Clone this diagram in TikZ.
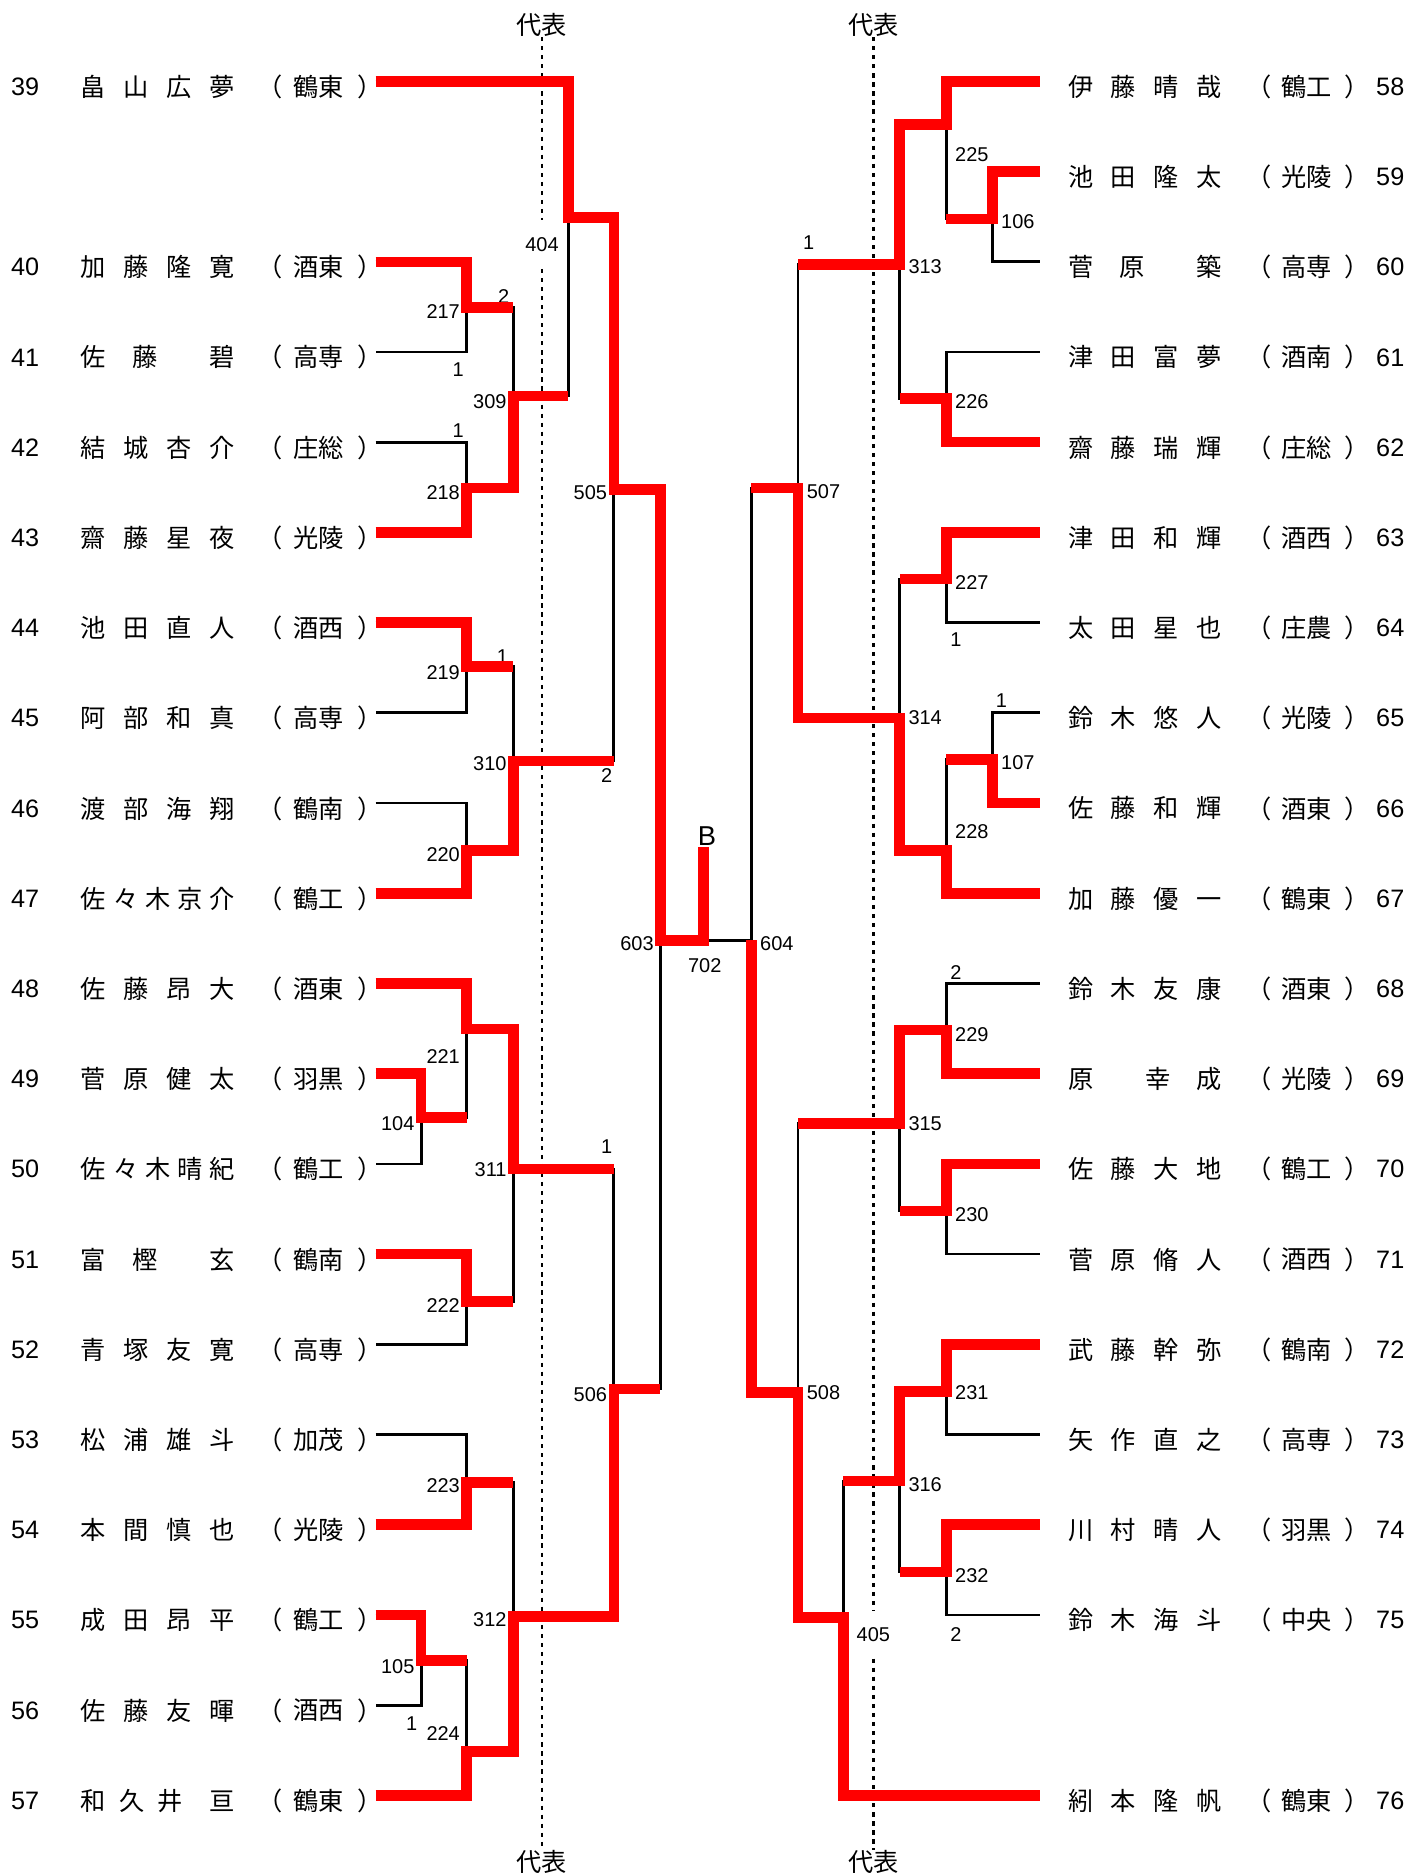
\documentclass[tikz,border=0pt]{standalone}
\usepackage{fontspec}
\usepackage{xcolor}
\usepackage{tikz}
\usetikzlibrary{calc}
\newfontfamily\jpfont{Noto Sans CJK JP}
\newfontfamily\latfont{Liberation Sans}
\definecolor{winRed}{HTML}{FF0000}

\begin{document}
\begin{tikzpicture}[x=0.02cm, y=-0.02cm,
  bline/.style={line width=1.3pt},
  wline/.style={winRed, line width=5pt, line join=miter},
  rep/.style={line width=1.2pt, dash pattern=on 2pt off 2.3pt},
  nametxt/.style={font=\jpfont\fontsize{12pt}{14pt}\selectfont, inner sep=0pt},
  pnotxt/.style={font=\latfont\fontsize{12pt}{14pt}\selectfont, inner sep=0pt},
  mno/.style={font=\latfont\fontsize{9.5pt}{11pt}\selectfont, inner sep=0pt},
]
  \useasboundingbox (0,0) rectangle (1192,1568);

  % left entries
  \foreach \k/\pno/\who/\sch in {
    0/39/{畠\hfill 山\hfill 広\hfill 夢}/鶴東,
    2/40/{加\hfill 藤\hfill 隆\hfill 寛}/酒東,
    3/41/{佐\hfill 藤\hfill\hfill 碧}/高専,
    4/42/{結\hfill 城\hfill 杏\hfill 介}/庄総,
    5/43/{齋\hfill 藤\hfill 星\hfill 夜}/光陵,
    6/44/{池\hfill 田\hfill 直\hfill 人}/酒西,
    7/45/{阿\hfill 部\hfill 和\hfill 真}/高専,
    8/46/{渡\hfill 部\hfill 海\hfill 翔}/鶴南,
    9/47/{佐\hfill 々\hfill 木\hfill 京\hfill 介}/鶴工,
    10/48/{佐\hfill 藤\hfill 昂\hfill 大}/酒東,
    11/49/{菅\hfill 原\hfill 健\hfill 太}/羽黒,
    12/50/{佐\hfill 々\hfill 木\hfill 晴\hfill 紀}/鶴工,
    13/51/{富\hfill 樫\hfill\hfill 玄}/鶴南,
    14/52/{青\hfill 塚\hfill 友\hfill 寛}/高専,
    15/53/{松\hfill 浦\hfill 雄\hfill 斗}/加茂,
    16/54/{本\hfill 間\hfill 慎\hfill 也}/光陵,
    17/55/{成\hfill 田\hfill 昂\hfill 平}/鶴工,
    18/56/{佐\hfill 藤\hfill 友\hfill 暉}/酒西,
    19/57/{和\hfill 久\hfill 井\hfill\hfill 亘}/鶴東}{
    \pgfmathsetmacro\ly{68+75.4*\k}
    \coordinate (p\pno) at (314,\ly);
    \node[pnotxt] (no\pno) at (21,\ly+4.5) {\pno};
    \node[nametxt] (nm\pno) at (132,\ly+4.5) {\makebox[73.2pt][s]{\who}};
    \node[nametxt] (lp\pno) at (226,\ly+4.5) {（};
    \node[nametxt] (sc\pno) at (266,\ly+4.5) {\sch};
    \node[nametxt] (rp\pno) at (309,\ly+4.5) {）};
  }

  % right entries
  \foreach \k/\pno/\who/\sch in {
    0/58/{伊\hfill 藤\hfill 晴\hfill 哉}/鶴工,
    1/59/{池\hfill 田\hfill 隆\hfill 太}/光陵,
    2/60/{菅\hfill 原\hfill\hfill 築}/高専,
    3/61/{津\hfill 田\hfill 富\hfill 夢}/酒南,
    4/62/{齋\hfill 藤\hfill 瑞\hfill 輝}/庄総,
    5/63/{津\hfill 田\hfill 和\hfill 輝}/酒西,
    6/64/{太\hfill 田\hfill 星\hfill 也}/庄農,
    7/65/{鈴\hfill 木\hfill 悠\hfill 人}/光陵,
    8/66/{佐\hfill 藤\hfill 和\hfill 輝}/酒東,
    9/67/{加\hfill 藤\hfill 優\hfill 一}/鶴東,
    10/68/{鈴\hfill 木\hfill 友\hfill 康}/酒東,
    11/69/{原\hfill\hfill 幸\hfill 成}/光陵,
    12/70/{佐\hfill 藤\hfill 大\hfill 地}/鶴工,
    13/71/{菅\hfill 原\hfill 脩\hfill 人}/酒西,
    14/72/{武\hfill 藤\hfill 幹\hfill 弥}/鶴南,
    15/73/{矢\hfill 作\hfill 直\hfill 之}/高専,
    16/74/{川\hfill 村\hfill 晴\hfill 人}/羽黒,
    17/75/{鈴\hfill 木\hfill 海\hfill 斗}/中央,
    19/76/{紖\hfill 本\hfill 隆\hfill 帆}/鶴東}{
    \pgfmathsetmacro\ly{68+75.4*\k}
    \coordinate (p\pno) at (869,\ly);
    \node[nametxt] (nm\pno) at (957,\ly+4.5) {\makebox[73.2pt][s]{\who}};
    \node[nametxt] (lp\pno) at (1052,\ly+4.5) {（};
    \node[nametxt] (sc\pno) at (1092,\ly+4.5) {\sch};
    \node[nametxt] (rp\pno) at (1134,\ly+4.5) {）};
    \node[pnotxt] (no\pno) at (1162,\ly+4.5) {\pno};
  }

  % match points
  \foreach \m/\x/\y in {217/390/257, 218/390/408, 309/429/331, 404/475/182,
      219/390/557, 220/390/711, 310/429/636, 505/513/409,
      104/352/934, 221/390/860, 222/390/1088, 311/429/977,
      223/390/1239, 105/352/1388, 224/390/1464, 312/429/1351,
      506/513/1161, 603/552/786, 702/588/786,
      106/829.5/183, 225/791/104, 226/791/333, 313/752/221,
      227/791/484, 107/829.5/635, 228/791/711, 314/752/600, 507/667/408,
      229/791/861, 230/791/1012, 315/752/939,
      231/791/1163, 232/791/1314, 316/752/1238, 405/705/1352,
      508/667/1164, 604/628/786}
    \coordinate (j\m) at (\x,\y);
  \coordinate (bTop) at (588,708);

  % match numbers
  \foreach \m/\x/\y in {217/384.7/260, 218/384.7/411.5, 219/384.7/562.5,
      220/384.7/714, 221/384.7/883, 222/384.7/1091, 223/384.7/1241.6,
      224/384.7/1449, 309/423.7/336, 310/423.7/638, 311/423.7/977.4,
      312/423.7/1353.6, 505/507.7/411.5, 506/507.7/1166, 603/546.7/789,
      104/346.7/939, 105/346.7/1392.6}
    \node[mno, anchor=east] (t\m) at (\x,\y) {\m};
  \foreach \m/\x/\y in {225/798/129, 226/798/336, 227/798/487, 228/798/695,
      229/798/865, 230/798/1015.6, 231/798/1164, 232/798/1317,
      106/836.5/185, 107/836.5/637, 313/759/223, 314/759/600,
      315/759/939, 316/759/1241, 507/674/410.5, 508/674/1164, 604/635/789}
    \node[mno, anchor=west] (t\m) at (\x,\y) {\m};
  \node[mno, inner ysep=8pt] (t404) at (453,204.5) {404};
  \node[mno, inner ysep=8pt] (t405) at (730,1366) {405};
  \node[mno] (t702) at (589,806.7) {702};
  \node[font=\latfont\fontsize{13pt}{15pt}\selectfont, inner sep=0pt] (blk) at (591,698.6) {B};

  % scores
  \foreach \s/\v/\x/\y in {217w/2/421/248, 217l/1/383/309, 218l/1/383/360,
      219w/1/420/549, 505l/2/507/648, 506l/1/507/958, 105l/1/344/1440.6,
      507l/1/676/203, 227l/1/799/535, 107l/1/837/586, 229l/2/799/813,
      232l/2/799/1366}
    \node[mno] (s\s) at (\x,\y) {\v};

  % representative lines
  \node[nametxt] (hdTL) at (453,21) {代表};
  \node[nametxt] (hdBL) at (453,1556) {代表};
  \node[nametxt] (hdTR) at (730,21) {代表};
  \node[nametxt] (hdBR) at (730,1556) {代表};
  \draw[rep] (hdTL) -- (t404);
  \draw[rep] (t404) -- (hdBL);
  \draw[rep] (hdTR) -- (t405);
  \draw[rep] (t405) -- (hdBR);

  % bracket
  \foreach \a/\m/\b in {p40/217/p41, p42/218/p43, j217/309/j218, p39/404/j309,
      p44/219/p45, p46/220/p47, j219/310/j220, j404/505/j310,
      p49/104/p50, p48/221/j104, p51/222/p52, j221/311/j222,
      p53/223/p54, p55/105/p56, j105/224/p57, j223/312/j224,
      j311/506/j312, j505/603/j506,
      p59/106/p60, p58/225/j106, p61/226/p62, j225/313/j226,
      p63/227/p64, p65/107/p66, j107/228/p67, j227/314/j228, j313/507/j314,
      p68/229/p69, p70/230/p71, j229/315/j230,
      p72/231/p73, p74/232/p75, j231/316/j232, j316/405/p76,
      j315/508/j405, j507/604/j508}
    \draw[bline] (\a) -| (j\m) |- (\b);
  \draw[bline] (j603) -- (j604);

  % winners
  \draw[wline] (p39) -| (j404) -| (j505) -| (j603) -- (j702) -- (bTop);
  \draw[wline] (p40) -| (j217) -- (j217 -| j309);
  \draw[wline] (p43) -| (j218) -| (j309) -- (j309 -| j404);
  \draw[wline] (p44) -| (j219) -- (j219 -| j310);
  \draw[wline] (p47) -| (j220) -| (j310) -- (j310 -| j505);
  \draw[wline] (p48) -| (j221) -| (j311) -- (j311 -| j506);
  \draw[wline] (p49) -| (j104) -- (j104 -| j221);
  \draw[wline] (p51) -| (j222) -- (j222 -| j311);
  \draw[wline] (p54) -| (j223) -- (j223 -| j312);
  \draw[wline] (p55) -| (j105) -- (j105 -| j224);
  \draw[wline] (p57) -| (j224) -| (j312) -| (j506) -- (j506 -| j603);
  \draw[wline] (p58) -| (j225) -| (j313) -- (j313 -| j507);
  \draw[wline] (p59) -| (j106) -- (j106 -| j225);
  \draw[wline] (p62) -| (j226) -- (j226 -| j313);
  \draw[wline] (p63) -| (j227) -- (j227 -| j314);
  \draw[wline] (p66) -| (j107) -- (j107 -| j228);
  \draw[wline] (p67) -| (j228) -| (j314) -| (j507) -- (j507 -| j604);
  \draw[wline] (p69) -| (j229) -| (j315) -- (j315 -| j508);
  \draw[wline] (p70) -| (j230) -- (j230 -| j315);
  \draw[wline] (p72) -| (j231) -| (j316) -- (j316 -| j405);
  \draw[wline] (p74) -| (j232) -- (j232 -| j316);
  \draw[wline] (p76) -| (j405) -| (j508) -| (j604);
\end{tikzpicture}
\end{document}
